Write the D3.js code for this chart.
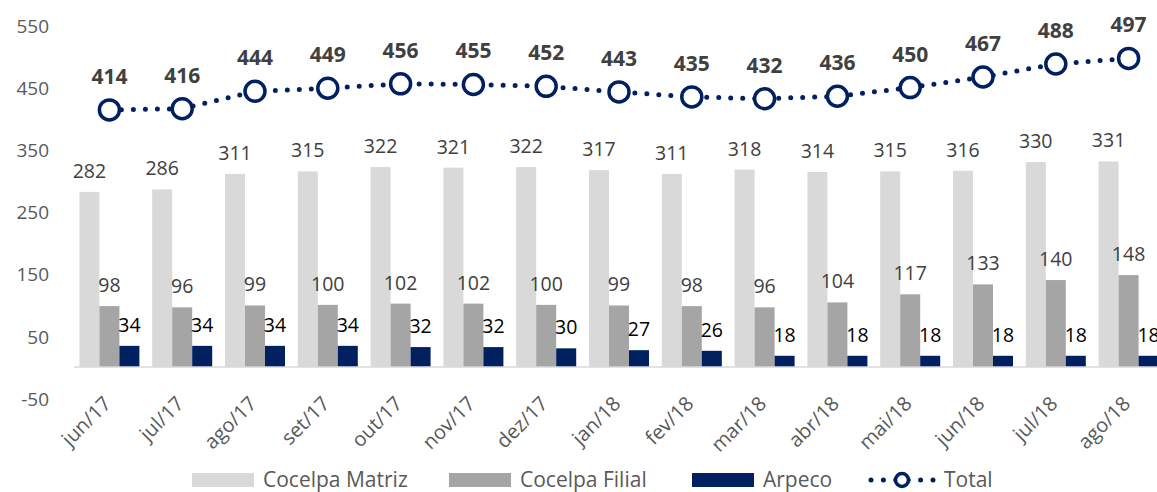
<!DOCTYPE html>
<html>
<head>
<meta charset="UTF-8">
<script src="https://cdn.jsdelivr.net/npm/d3@7"></script>
<style>
body{ margin:0; background:#fff; font-family:"Open Sans","Noto Sans",sans-serif; }
svg{ display:block; }
</style>
</head>
<body>
<script>

var categories = ["jun/17","jul/17","ago/17","set/17","out/17","nov/17","dez/17","jan/18","fev/18","mar/18","abr/18","mai/18","jun/18","jul/18","ago/18"];
var matriz = [282,286,311,315,322,321,322,317,311,318,314,315,316,330,331];
var filial = [98,96,99,100,102,102,100,99,98,96,104,117,133,140,148];
var arpeco = [34,34,34,34,32,32,30,27,26,18,18,18,18,18,18];
var total  = [414,416,444,449,456,455,452,443,435,432,436,450,467,488,497];
var yTicks = [-50,50,150,250,350,450,550];

var seriesNames = ["Cocelpa Matriz","Cocelpa Filial","Arpeco"];
var seriesData = [matriz, filial, arpeco];
var colors = ["#d9d9d9","#a5a5a5","#002060"];
var labelColors = ["#404040","#404040","#000000"];
var navy = "#002060";

var width = 1157, height = 492;

var svg = d3.select("body").append("svg")
    .attr("width", width)
    .attr("height", height);

var x = d3.scaleBand().domain(categories).range([73, 1165]).padding(0);
var xs = d3.scaleBand().domain(seriesNames).range([0, x.bandwidth()])
    .paddingInner(0).paddingOuter(0.32);
var y = d3.scaleLinear().domain([-50, 550]).range([398, 25.5]);

// y labels (plain hyphen like the original)
var yAxis = d3.axisLeft(y).tickValues(yTicks).tickSize(0).tickPadding(0)
    .tickFormat(function(d){ return String(d); });
var gY = svg.append("g")
    .attr("transform", "translate(49,1)")
    .call(yAxis);
gY.select(".domain").remove();
gY.selectAll("text")
    .attr("font-family", "'Open Sans','Noto Sans',sans-serif")
    .attr("font-size", 19)
    .attr("fill", "#595959");

// bars
seriesNames.forEach(function(name, si){
    var vals = seriesData[si];
    var g = svg.append("g");
    g.selectAll("rect")
        .data(vals)
        .enter().append("rect")
        .attr("x", function(d, i){ return x(categories[i]) + xs(name); })
        .attr("width", xs.bandwidth())
        .attr("y", function(d){ return y(d); })
        .attr("height", function(d){ return y(0) - y(d); })
        .attr("fill", colors[si]);
    g.selectAll("text")
        .data(vals)
        .enter().append("text")
        .attr("x", function(d, i){ return x(categories[i]) + xs(name) + xs.bandwidth()/2; })
        .attr("y", function(d){ return y(d) - 14; })
        .attr("text-anchor", "middle")
        .attr("font-size", 19.5)
        .attr("fill", labelColors[si])
        .text(function(d){ return d; });
});

// x axis line at zero
var xAxis = d3.axisBottom(x).tickSize(0).tickPadding(0);
var gX = svg.append("g")
    .attr("transform", "translate(0," + y(0) + ")")
    .call(xAxis);
gX.select(".domain").attr("stroke", "#d9d9d9").attr("stroke-width", 1.5)
    .attr("d", "M74,0H" + width);
gX.selectAll("text")
    .attr("font-family", "'Open Sans','Noto Sans',sans-serif")
    .attr("font-size", 20)
    .attr("fill", "#595959")
    .attr("text-anchor", "end")
    .attr("dy", "0.35em")
    .attr("transform", "translate(-2,33) rotate(-45)");

// total line
var cx = function(i){ return x(categories[i]) + x.bandwidth()/2; };
var line = d3.line()
    .x(function(d, i){ return cx(i); })
    .y(function(d){ return y(d); });
svg.append("path")
    .datum(total)
    .attr("d", line)
    .attr("fill", "none")
    .attr("stroke", navy)
    .attr("stroke-width", 5)
    .attr("stroke-linecap", "round")
    .attr("stroke-dasharray", "0,12");
svg.append("g").selectAll("circle")
    .data(total)
    .enter().append("circle")
    .attr("cx", function(d, i){ return cx(i); })
    .attr("cy", function(d){ return y(d); })
    .attr("r", 10)
    .attr("fill", "#fff")
    .attr("stroke", navy)
    .attr("stroke-width", 3.5);
svg.append("g").selectAll("text")
    .data(total)
    .enter().append("text")
    .attr("x", function(d, i){ return cx(i); })
    .attr("y", function(d){ return y(d) - 26; })
    .attr("text-anchor", "middle")
    .attr("font-size", 21)
    .attr("font-weight", "bold")
    .attr("fill", "#404040")
    .text(function(d){ return d; });

// legend
var legend = svg.append("g").attr("font-size", 21).attr("fill", "#595959");
var legendX = [192, 449, 692];
seriesNames.forEach(function(name, si){
    legend.append("rect")
        .attr("x", legendX[si]).attr("y", 473)
        .attr("width", 62).attr("height", 14)
        .attr("fill", colors[si]);
    legend.append("text")
        .attr("x", legendX[si] + 71).attr("y", 480)
        .attr("dy", "0.35em")
        .text(name);
});
legend.append("line")
    .attr("x1", 871).attr("x2", 933).attr("y1", 480).attr("y2", 480)
    .attr("stroke", navy).attr("stroke-width", 5)
    .attr("stroke-linecap", "round").attr("stroke-dasharray", "0,12.4");
legend.append("circle")
    .attr("cx", 902).attr("cy", 480).attr("r", 6.5)
    .attr("fill", "#fff").attr("stroke", navy).attr("stroke-width", 3.5);
legend.append("text")
    .attr("x", 944).attr("y", 480).attr("dy", "0.35em")
    .text("Total");

</script>
</body>
</html>
